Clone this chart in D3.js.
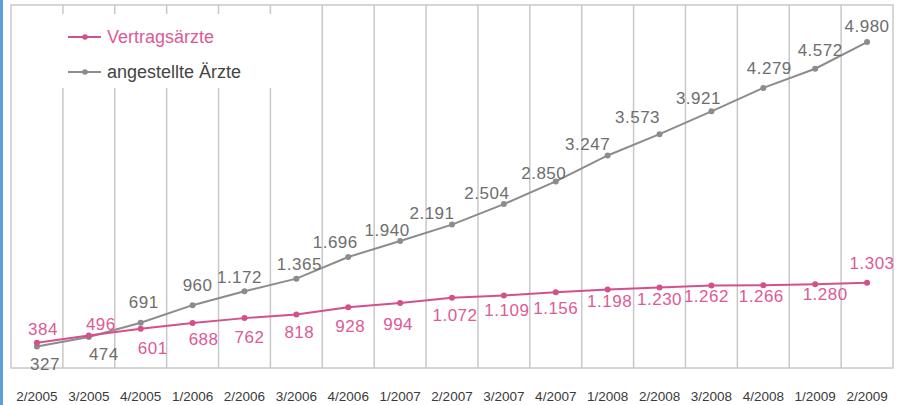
<!DOCTYPE html>
<html>
<head>
<meta charset="utf-8">
<script src="https://cdn.jsdelivr.net/npm/d3@7"></script>
<style>
  html, body { margin: 0; padding: 0; background: #fff; }
  svg { display: block; font-family: "Liberation Sans", Arial, sans-serif; }
</style>
</head>
<body>
<div id="chart"></div>
<script>
// quarters on the x axis
const quarters = ['2/2005', '3/2005', '4/2005', '1/2006', '2/2006', '3/2006', '4/2006', '1/2007',
    '2/2007', '3/2007', '4/2007', '1/2008', '2/2008', '3/2008', '4/2008', '1/2009', '2/2009'];

const vertragsaerzte = [384, 496, 601, 688, 762, 818, 928, 994, 1072, 1109, 1156, 1198, 1230, 1262, 1266, 1280, 1303];
const angestellteAerzte = [327, 474, 691, 960, 1172, 1365, 1696, 1940, 2191, 2504, 2850, 3247, 3573, 3921, 4279, 4572, 4980];

const seriesNames = ['Vertragsärzte', 'angestellte Ärzte'];
const yMax = 5500;

// hand placed label nudges (dx, dy from the point to the label centre)
const pinkLabelNudge = [[6, -14], [12, -12], [12, 19], [11, 16], [5, 19], [3, 18], [2, 19], [-2, 21], [3, 17],
    [3, 15], [0, 16], [2, 11], [0, 12], [-5, 11], [-2, 11], [10, 10], [5, -20]];
const greyLabelNudge = [[8, 17], [15, 17], [3, -21], [5, -20], [-5, -14], [3, -15], [-13, -15], [-13, -11], [-20, -12],
    [-17, -11], [-12, -8], [-20, -11], [-22, -17], [-13, -13], [6, -20], [5, -19], [0, -16]];

const width = 898;
const height = 405;
const plot = {left: 11, right: 893, top: 5, bottom: 368};

const pink = '#d4508c';
const pinkText = '#dc5a98';
const grey = '#8c8c8c';
const greyText = '#6e6e6e';

const fmt = d3.formatLocale({decimal: ',', thousands: '.', grouping: [3], currency: ['', '€']}).format(',d');

const svg = d3.select('#chart')
    .append('svg')
    .attr('width', width)
    .attr('height', height);

// blue strip on the left edge
svg.append('rect')
    .attr('x', 0).attr('y', 0)
    .attr('width', 3).attr('height', height)
    .attr('fill', '#5a9fd8');

const x = d3.scaleBand()
    .domain(quarters)
    .range([plot.left, plot.right]);

const y = d3.scaleLinear()
    .domain([0, yMax])
    .range([plot.bottom, plot.top + 3]);

const cx = q => x(q) + x.bandwidth() / 2;

// frame
svg.append('rect')
    .attr('x', plot.left).attr('y', plot.top)
    .attr('width', plot.right - plot.left).attr('height', plot.bottom - plot.top)
    .attr('fill', 'none')
    .attr('stroke', '#c8c8c8')
    .attr('stroke-width', 1.5);

// vertical gridlines between quarters
svg.append('g')
    .selectAll('line')
    .data(quarters.slice(1))
    .enter()
    .append('line')
    .attr('x1', q => x(q)).attr('x2', q => x(q))
    .attr('y1', plot.top).attr('y2', plot.bottom)
    .attr('stroke', '#c8c8c8')
    .attr('stroke-width', 1.5);

// legend sits on a white box over the grid
const legend = svg.append('g');
legend.append('rect')
    .attr('x', 14).attr('y', 14)
    .attr('width', 286).attr('height', 74)
    .attr('fill', '#fff');

[[pink, pinkText], [grey, '#444']].forEach(([c, tc], i) => {
    const ly = 37 + i * 35;
    legend.append('line')
        .attr('x1', 68).attr('x2', 101)
        .attr('y1', ly).attr('y2', ly)
        .attr('stroke', c).attr('stroke-width', 2);
    legend.append('circle')
        .attr('cx', 85).attr('cy', ly).attr('r', 2.8)
        .attr('fill', c);
    legend.append('text')
        .attr('x', 107).attr('y', ly + 6)
        .attr('font-size', 18)
        .attr('fill', tc)
        .text(seriesNames[i]);
});

// x axis labels
const xAxis = svg.append('g')
    .attr('transform', `translate(0, ${plot.bottom})`)
    .call(d3.axisBottom(x).tickSize(0).tickPadding(23));
xAxis.select('.domain').remove();
xAxis.selectAll('text')
    .attr('font-size', 13.5)
    .attr('font-family', '"Liberation Sans", Arial, sans-serif')
    .attr('fill', '#3a3a3a');

const line = d3.line()
    .x((d, i) => cx(quarters[i]))
    .y(d => y(d));

function drawSeries(values, color, textColor, nudges) {
    const g = svg.append('g');
    g.append('path')
        .datum(values)
        .attr('d', line)
        .attr('fill', 'none')
        .attr('stroke', color)
        .attr('stroke-width', 2);
    g.selectAll('circle')
        .data(values)
        .enter()
        .append('circle')
        .attr('cx', (d, i) => cx(quarters[i]))
        .attr('cy', d => y(d))
        .attr('r', 3)
        .attr('fill', color);
    g.selectAll('text')
        .data(values)
        .enter()
        .append('text')
        .attr('x', (d, i) => cx(quarters[i]) + nudges[i][0])
        .attr('y', (d, i) => y(d) + nudges[i][1] + 6)
        .attr('text-anchor', 'middle')
        .attr('font-size', 17)
        .attr('letter-spacing', 0.5)
        .attr('fill', textColor)
        .text(d => fmt(d));
}

drawSeries(angestellteAerzte, grey, greyText, greyLabelNudge);
drawSeries(vertragsaerzte, pink, pinkText, pinkLabelNudge);
</script>
</body>
</html>
